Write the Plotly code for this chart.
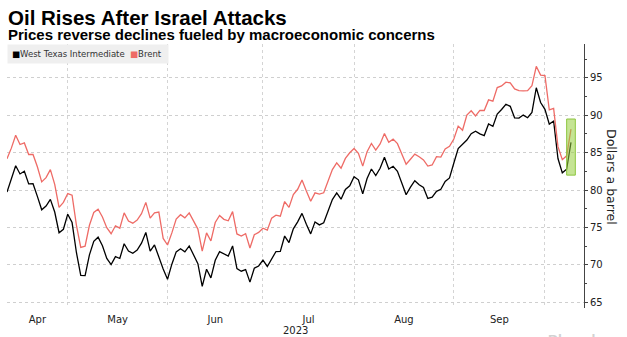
import pandas as pd
import plotly.graph_objects as go

# ---------------- data ----------------
dates = pd.bdate_range("2023-04-10", "2023-10-09")  # weekday (trading-day) axis

wti_apr = [79.74, 81.53, 83.26, 82.16, 82.52, 80.83, 80.86, 79.16, 77.37, 77.87, 78.76, 77.07, 74.30, 74.76, 76.78]
wti_may = [75.66, 71.66, 68.60, 68.56, 71.34, 73.16, 73.71, 72.56, 70.87, 70.04, 71.11, 70.86, 72.83, 71.86, 71.55,
           71.99, 72.91, 74.34, 71.83, 72.67, None, 69.46, 68.09]
wti_jun = [70.10, 71.74, 72.15, 71.74, 72.53, 71.29, 70.17, 67.12, 69.42, 68.27, 70.62, 71.78, None, 71.19, 72.53,
           69.51, 69.16, 69.37, 67.70, 69.56, 69.86, 70.64]
wti_jul = [69.79, None, 71.79, 71.80, 73.86, 72.99, 74.83, 75.75, 76.89, 75.42, 74.15, 75.75, 75.35, 75.63, 77.07,
           78.74, 79.63, 78.78, 80.09, 80.58, 81.80]
wti_aug = [81.37, 79.49, 81.55, 82.82, 81.94, 82.92, 84.40, 82.82, 83.19, 82.51, 80.99, 79.38, 80.39, 81.25, 80.72,
           80.35, 78.89, 79.05, 79.83, 80.10, 81.16, 81.63, 83.63]
wti_sep = [85.55, None, 86.69, 87.54, 87.87, 87.51, 87.29, 88.84, 88.52, 90.16, 90.77, 91.48, 91.20, 89.66, 89.63,
           90.03, 89.68, 90.39, 93.68, 91.71, 90.79]
wti_oct = [88.82, 89.23, 84.22, 82.31, 82.79, 86.38]

brent_apr = [84.18, 85.61, 87.33, 86.09, 86.31, 84.76, 84.77, 83.12, 81.10, 81.66, 82.73, 80.77, 77.69, 78.37, 79.54]
brent_may = [79.31, 75.32, 72.33, 72.50, 75.30, 77.01, 77.44, 76.41, 74.98, 74.17, 75.23, 74.91, 76.96, 75.86, 75.58,
             75.99, 76.84, 78.36, 76.26, 76.95, 77.07, 73.54, 72.66]
brent_jun = [74.28, 76.13, 76.71, 76.29, 76.95, 75.96, 74.79, 71.84, 74.29, 73.20, 75.67, 76.61, 76.09, 75.90, 77.12,
             74.14, 73.85, 74.18, 72.26, 74.03, 74.34, 74.90]
brent_jul = [74.65, 76.25, 76.65, 76.52, 78.47, 77.69, 79.40, 80.11, 81.36, 79.87, 78.50, 79.63, 79.46, 79.64, 81.07,
             82.74, 83.64, 82.92, 84.24, 84.99, 85.56]
brent_aug = [84.91, 83.20, 85.14, 86.24, 85.34, 86.17, 87.55, 86.40, 86.81, 86.21, 84.89, 83.45, 84.12, 84.80, 84.46,
             84.03, 83.21, 83.36, 84.48, 84.42, 85.49, 85.86, 86.83]
brent_sep = [88.55, 88.00, 90.04, 90.60, 89.92, 90.65, 90.64, 92.06, 91.88, 93.70, 93.93, 94.43, 94.34, 93.53, 93.30,
             93.27, 93.29, 93.96, 96.55, 95.38, 95.31]
brent_oct = [90.71, 90.92, 85.81, 84.07, 84.58, 88.15]

wti = wti_apr + wti_may + wti_jun + wti_jul + wti_aug + wti_sep + wti_oct
brent = brent_apr + brent_may + brent_jun + brent_jul + brent_aug + brent_sep + brent_oct

month_labels = ["Apr", "May", "Jun", "Jul", "Aug", "Sep"]
year_label = "2023"
y_ticks = [65, 70, 75, 80, 85, 90, 95]
highlight_dates = ["2023-10-06", "2023-10-10"]
highlight_prices = [82.0, 89.5]

# ---------------- layout helpers ----------------
W, H = 627, 337
L, R, T, B = 7, 584, 44, 308
PW, PH = R - L, B - T


def px_x(p):
    return (p - L) / PW


def px_y(p):
    return (B - p) / PH


# month boundaries = last trading day of each complete month
s = pd.Series(range(len(dates)), index=dates)
last_idx = s.groupby([dates.year, dates.month]).max().tolist()[:-1]
bounds = [0] + last_idx
month_end_dates = [dates[i] for i in last_idx]
label_pos = []
for a, b in zip(bounds[:-1], bounds[1:]):
    m = (a + b) / 2
    base = int(m)
    label_pos.append(dates[base] + pd.Timedelta(days=m - base))

x_end = dates[-1] + pd.offsets.BDay(3)

BLACK = "#000000"
RED = "#ee6b66"
TICKFONT = dict(family="DejaVu Sans", size=10, color="#222222")

fig = go.Figure()
fig.add_trace(go.Scatter(x=dates, y=wti, mode="lines", name="West Texas Intermediate",
                         line=dict(color=BLACK, width=1.3), connectgaps=True, showlegend=False))
fig.add_trace(go.Scatter(x=dates, y=brent, mode="lines", name="Brent",
                         line=dict(color=RED, width=1.3), connectgaps=True, showlegend=False))

fig.add_shape(type="rect", xref="x", yref="y",
              x0=highlight_dates[0], x1=highlight_dates[1],
              y0=highlight_prices[0], y1=highlight_prices[1],
              fillcolor="rgba(150,205,60,0.55)", line=dict(color="#8dc63f", width=1), layer="above")

fig.update_xaxes(
    type="date",
    rangebreaks=[dict(bounds=["sat", "mon"])],
    range=[dates[0], x_end],
    tickmode="array", tickvals=label_pos, ticktext=month_labels,
    ticks="", showgrid=False, showline=False, zeroline=False,
    tickfont=TICKFONT, ticklabelstandoff=4,
    minor=dict(tickmode="array", tickvals=month_end_dates, showgrid=True,
               gridcolor="#d4d4d4", griddash="dot", gridwidth=1, ticks=""),
)
fig.update_yaxes(
    side="right", range=[64.24, 99.53],
    tickmode="array", tickvals=y_ticks,
    showgrid=True, gridcolor="#cfcfcf", griddash="dot", gridwidth=1,
    showline=True, linecolor="#444444", linewidth=1,
    ticks="outside", ticklen=3, tickcolor="#444444",
    minor=dict(dtick=2.5, tick0=65, ticks="outside", ticklen=2, tickcolor="#444444", showgrid=False),
    zeroline=False, tickfont=TICKFONT,
)

ann = []
ann.append(dict(text="<b>Oil Rises After Israel Attacks</b>", xref="paper", yref="paper",
                x=px_x(6), y=px_y(17.5), xanchor="left", yanchor="middle", showarrow=False,
                font=dict(family="Liberation Sans", size=20.5, color="#000")))
ann.append(dict(text="<b>Prices reverse declines fueled by macroeconomic concerns</b>", xref="paper", yref="paper",
                x=px_x(6), y=px_y(35), xanchor="left", yanchor="middle", showarrow=False,
                font=dict(family="Liberation Sans", size=15, color="#000")))
ann.append(dict(text=("<span style='color:#000000'>■</span>West Texas Intermediate  "
                      "<span style='color:%s'>■</span>Brent " % RED),
                xref="paper", yref="paper", x=px_x(7), y=px_y(54), xanchor="left", yanchor="middle",
                showarrow=False, bgcolor="#efefef", borderpad=4,
                font=dict(family="DejaVu Sans", size=8.5, color="#333333")))
ann.append(dict(text="Dollars a barrel", xref="paper", yref="paper", x=px_x(612), y=px_y(177),
                xanchor="center", yanchor="middle", textangle=90, showarrow=False,
                font=dict(family="DejaVu Sans", size=12.5, color="#222222")))
ann.append(dict(text=year_label, xref="paper", yref="paper", x=px_x(295), y=px_y(330),
                xanchor="center", yanchor="middle", showarrow=False, font=TICKFONT))
ann.append(dict(text="<b>Bloomberg</b>", xref="paper", yref="paper", x=px_x(624), y=px_y(330),
                xanchor="right", yanchor="top", showarrow=False,
                font=dict(family="Liberation Sans", size=14, color="#d2d2d2")))

fig.update_layout(
    width=W, height=H,
    margin=dict(l=L, r=W - R, t=T, b=H - B, pad=0),
    paper_bgcolor="white", plot_bgcolor="white",
    annotations=ann, showlegend=False,
)

fig.write_html("out.html")
